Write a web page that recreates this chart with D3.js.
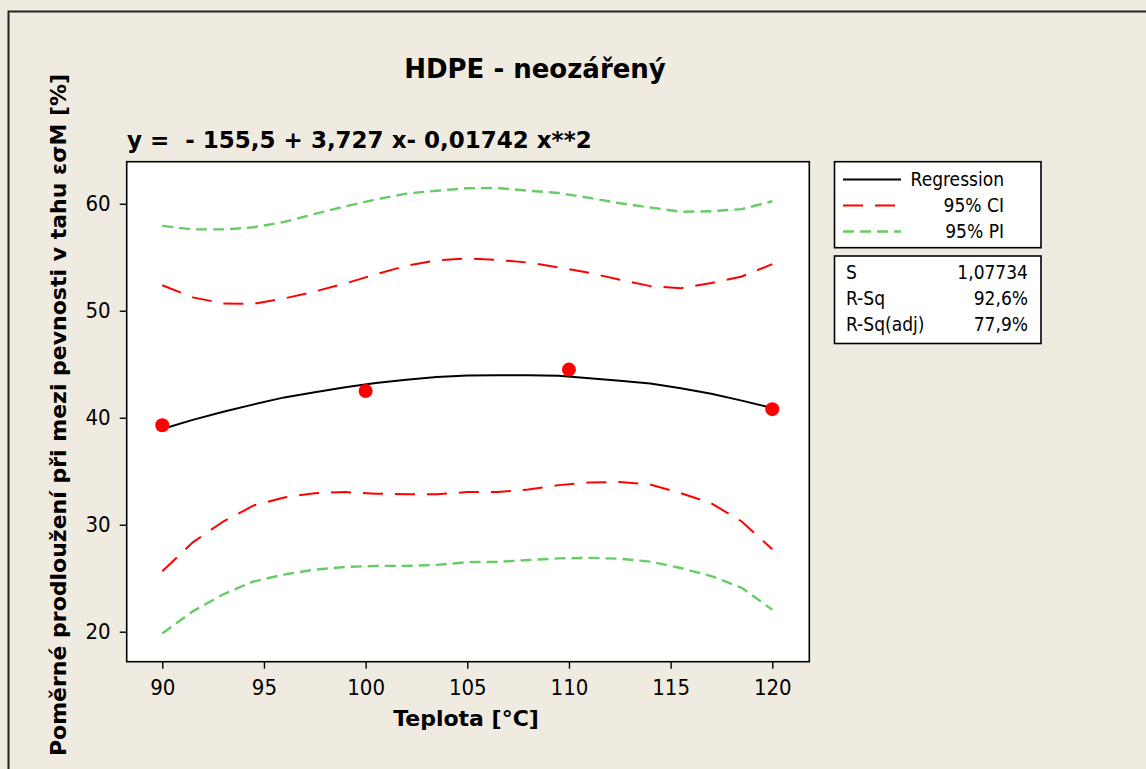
<!DOCTYPE html>
<html>
<head>
<meta charset="utf-8">
<script src="https://cdn.jsdelivr.net/npm/d3@7"></script>
<style>
  html, body { margin: 0; padding: 0; background: #EFEBE1; }
  svg { display: block; }
  text { font-family: "DejaVu Sans Condensed", "DejaVu Sans", sans-serif; fill: #000; }
  .bold { font-family: "DejaVu Sans", sans-serif; font-weight: bold; }
</style>
</head>
<body>
<svg id="chart" width="1146" height="769"></svg>
<script>
// Observed data points: temperature [°C] vs. relative elongation [%]
const obsTemp = [90, 100, 110, 120];
const obsElong = [39.3, 42.5, 44.5, 40.8];

// Temperatures at which the fitted curve and its bands are traced
const fitTemp = [90, 91.5, 93, 94.5, 96, 97.5, 99, 100.5, 102, 103.5, 105,
                 106.5, 108, 109.5, 111, 112.5, 114, 115.5, 117, 118.5, 120];

// Fitted regression values
const fitLine = [38.95, 39.8, 40.55, 41.25, 41.9, 42.38, 42.85, 43.25, 43.55, 43.8, 43.95,
                 43.97, 43.97, 43.92, 43.7, 43.45, 43.2, 42.75, 42.25, 41.6, 40.9];

// 95 % confidence band
const ciUpper = [52.38, 51.25, 50.68, 50.64, 51.15, 51.8, 52.55, 53.4, 54.2, 54.7, 54.9,
                 54.75, 54.5, 54.05, 53.55, 52.9, 52.3, 52.1, 52.6, 53.2, 54.35];
const ciLower = [25.65, 28.35, 30.3, 31.8, 32.55, 32.95, 33.05, 32.9, 32.85, 32.85, 33.05,
                 33.05, 33.3, 33.7, 33.95, 34.0, 33.75, 32.95, 32.0, 30.3, 27.7];

// 95 % prediction band
const piUpper = [57.93, 57.6, 57.6, 57.8, 58.3, 59.05, 59.75, 60.4, 60.95, 61.22, 61.45,
                 61.48, 61.22, 61.0, 60.55, 60.05, 59.65, 59.25, 59.3, 59.5, 60.23];
const piLower = [19.83, 21.9, 23.5, 24.7, 25.35, 25.8, 26.05, 26.15, 26.15, 26.25, 26.5,
                 26.53, 26.7, 26.85, 26.9, 26.82, 26.55, 25.95, 25.2, 24.1, 22.05];

// Axis ticks
const xTicks = [90, 95, 100, 105, 110, 115, 120];
const yTicks = [20, 30, 40, 50, 60];

// Legend and summary statistics
const legendLabels = ["Regression", "95% CI", "95% PI"];
const statNames = ["S", "R-Sq", "R-Sq(adj)"];
const statValues = ["1,07734", "92,6%", "77,9%"];

const titleText = "HDPE - neozářený";
const equationText = "y =  - 155,5 + 3,727 x- 0,01742 x**2";
const xLabel = "Teplota [°C]";
const yLabel = "Poměrné prodloužení při mezi pevnosti v tahu εσM [%]";

const svg = d3.select("#chart");
const W = 1146, H = 769;

const plot = { left: 126.7, top: 161.7, right: 809.3, bottom: 661.7 };

const x = d3.scaleLinear().domain([88.25, 121.82]).range([plot.left, plot.right]);
const y = d3.scaleLinear().domain([17.196, 63.93]).range([plot.bottom, plot.top]);

// Page background with outer frame
svg.append("rect").attr("width", W).attr("height", H).attr("fill", "#EFEBE1");
svg.append("rect")
  .attr("x", 8.5).attr("y", 11.5).attr("width", W + 20).attr("height", H + 20)
  .attr("fill", "none").attr("stroke", "#222").attr("stroke-width", 2);

// Plot area
svg.append("rect")
  .attr("x", plot.left).attr("y", plot.top)
  .attr("width", plot.right - plot.left).attr("height", plot.bottom - plot.top)
  .attr("fill", "#fff").attr("stroke", "#000").attr("stroke-width", 1.6);

// Axes
const xAxis = svg.append("g")
  .attr("transform", `translate(0,${plot.bottom})`)
  .call(d3.axisBottom(x).tickValues(xTicks).tickSize(7).tickSizeOuter(0).tickPadding(11));
const yAxis = svg.append("g")
  .attr("transform", `translate(${plot.left},0)`)
  .call(d3.axisLeft(y).tickValues(yTicks).tickSize(7).tickSizeOuter(0).tickPadding(9));

[xAxis, yAxis].forEach(g => {
  g.select(".domain").remove();
  g.selectAll(".tick line").attr("stroke", "#000").attr("stroke-width", 1.4);
  g.selectAll(".tick text")
    .attr("font-family", '"DejaVu Sans Condensed", "DejaVu Sans", sans-serif')
    .attr("font-size", 22).attr("fill", "#1a1a1a");
});

// Curves
const line = vals => d3.line()
  .x((d, i) => x(fitTemp[i]))
  .y(d => y(d))(vals);

const g = svg.append("g");
[piUpper, piLower].forEach(v => g.append("path")
  .attr("d", line(v)).attr("fill", "none")
  .attr("stroke", "#66CC66").attr("stroke-width", 2.4)
  .attr("stroke-dasharray", "11,6"));
[ciUpper, ciLower].forEach(v => g.append("path")
  .attr("d", line(v)).attr("fill", "none")
  .attr("stroke", "#FF0000").attr("stroke-width", 2)
  .attr("stroke-dasharray", "20,12"));
g.append("path")
  .attr("d", line(fitLine)).attr("fill", "none")
  .attr("stroke", "#000").attr("stroke-width", 2);

// Observations
g.selectAll("circle.obs").data(obsTemp).enter().append("circle")
  .attr("class", "obs")
  .attr("cx", d => x(d))
  .attr("cy", (d, i) => y(obsElong[i]))
  .attr("r", 7).attr("fill", "#FF0000");

// Title, equation, axis labels
svg.append("text").attr("class", "bold").attr("x", 535).attr("y", 78)
  .attr("text-anchor", "middle").attr("font-size", 26)
  .text(titleText);
svg.append("text").attr("class", "bold").attr("x", 127).attr("y", 148)
  .attr("font-size", 23).style("white-space", "pre")
  .text(equationText);
svg.append("text").attr("class", "bold").attr("x", 466).attr("y", 726)
  .attr("text-anchor", "middle").attr("font-size", 22)
  .text(xLabel);
svg.append("text").attr("class", "bold")
  .attr("transform", "translate(66,415) rotate(-90)")
  .attr("text-anchor", "middle").attr("font-size", 22)
  .text(yLabel);

// Legend box
const leg = svg.append("g");
leg.append("rect").attr("x", 834.5).attr("y", 161.7).attr("width", 206.5).attr("height", 86)
  .attr("fill", "#fff").attr("stroke", "#000").attr("stroke-width", 1.6);
const legStyles = [
  { stroke: "#000", width: 2, dash: null },
  { stroke: "#FF0000", width: 2, dash: "20,12" },
  { stroke: "#66CC66", width: 2.4, dash: "11,6" }
];
legendLabels.forEach((lab, i) => {
  const cy = 179.5 + i * 26;
  leg.append("line").attr("x1", 843).attr("x2", 901).attr("y1", cy).attr("y2", cy)
    .attr("stroke", legStyles[i].stroke).attr("stroke-width", legStyles[i].width)
    .attr("stroke-dasharray", legStyles[i].dash);
  leg.append("text").attr("x", 1004).attr("y", cy + 6.5)
    .attr("text-anchor", "end").attr("font-size", 19).attr("fill", "#1a1a1a")
    .text(lab);
});

// Summary statistics box
leg.append("rect").attr("x", 834.5).attr("y", 256).attr("width", 206.5).attr("height", 87.5)
  .attr("fill", "#fff").attr("stroke", "#000").attr("stroke-width", 1.6);
statNames.forEach((nm, i) => {
  const by = 279 + i * 26.2;
  leg.append("text").attr("x", 846).attr("y", by).attr("font-size", 19).attr("fill", "#1a1a1a").text(nm);
  leg.append("text").attr("x", 1028).attr("y", by).attr("text-anchor", "end")
    .attr("font-size", 19).attr("fill", "#1a1a1a").text(statValues[i]);
});
</script>
</body>
</html>
